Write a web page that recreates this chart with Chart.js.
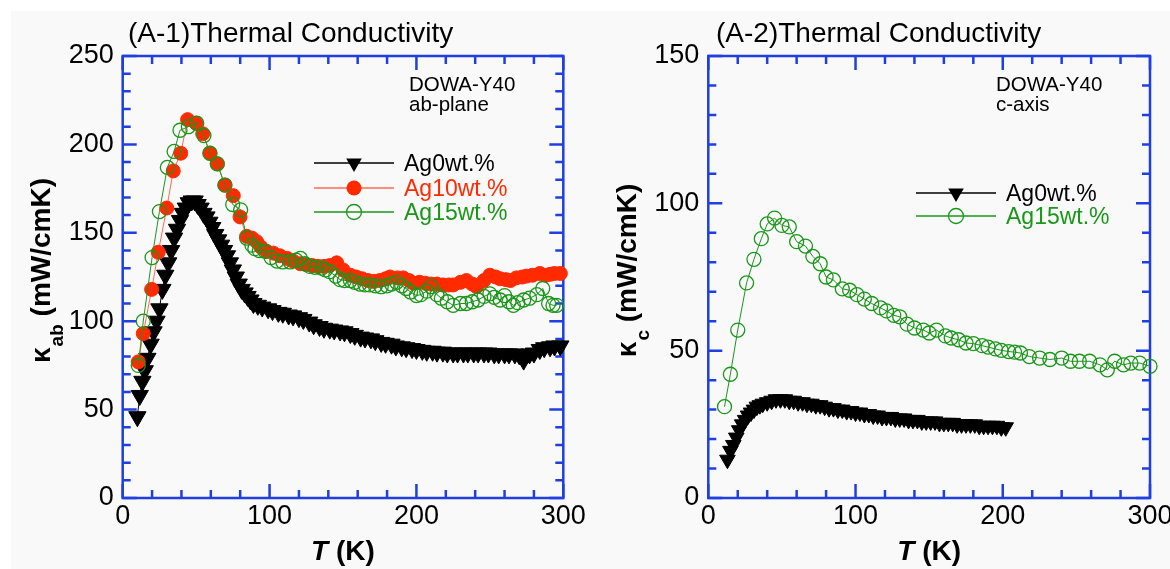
<!DOCTYPE html>
<html>
<head>
<meta charset="utf-8">
<script src="https://cdn.jsdelivr.net/npm/chart.js@4.4.1/dist/chart.umd.min.js"></script>
<style>
html, body { margin: 0; padding: 0; background: #fff; }
#wrap { position: relative; width: 1170px; height: 569px; overflow: hidden; }
#bg { position: absolute; left: 11px; top: 11px; right: 0; bottom: 0; background: #f9f9f9; }
canvas { position: absolute; top: 0; }
</style>
</head>
<body>
<div id="wrap">
	<div id="bg"></div>
	<canvas id="left" width="585" height="569" style="left:0"></canvas>
	<canvas id="right" width="585" height="569" style="left:585px"></canvas>
</div>
<script>
// (A-1) ab-plane, T in K, kappa in mW/cmK
const abAg0T = [10, 11.6, 13.4, 15, 16.8, 19, 21, 23, 25, 27,
	29, 31, 33, 35, 37, 39, 41, 43, 45, 47,
	49, 51, 53, 55, 57, 59, 61, 63, 65, 67,
	69, 71, 73, 75, 77, 79, 81, 83, 85, 87,
	89, 92, 95, 99, 102, 106, 109, 113, 116, 120,
	123, 127, 130, 134, 137, 141, 144, 148, 151, 155,
	158, 162, 165, 169, 172, 176, 179, 183, 186, 190,
	193, 197, 200, 204, 207, 211, 214, 218, 221, 225,
	228, 232, 235, 239, 242, 246, 249, 253, 256, 260,
	263, 267, 270, 273, 277, 280, 284, 287, 291, 294,
	298];
const abAg0K = [46, 58, 66, 72, 79, 87, 94, 100, 107, 118,
	126, 133, 140, 147, 152, 157, 161, 164, 167, 168,
	168, 166, 164, 161, 159, 156, 153, 149, 146, 143,
	140, 137, 133, 129, 125, 121, 118, 116, 114, 112,
	110, 109, 108, 107, 106, 105, 104.5, 103.5, 103, 102,
	101, 99.5, 98, 97, 96, 95.5, 95, 94.5, 94, 93,
	92, 91, 90.5, 90, 89, 88, 87.5, 87, 86, 85.5,
	85, 84.5, 84, 83.5, 83, 83, 82.5, 82.5, 82, 82,
	82, 82, 82, 82, 82, 82, 82, 81.5, 81.5, 81.5,
	81.5, 81.5, 81, 78, 81.5, 82, 84, 85, 85.5, 86,
	86];

const abAg10T = [10.6, 14, 19.7, 24.2, 30, 34.4, 39.5, 44.2, 49.9, 54.5,
	59.4, 64.4, 69.6, 75.3, 79.9, 84.4, 88, 91.2, 94, 98,
	102.5, 107, 112, 116, 121, 125, 129, 133, 137, 141,
	145.7, 150, 155, 159, 163, 167, 171, 175, 179, 182,
	187, 191, 195, 198, 202, 206, 210, 214, 218, 222,
	225, 230, 234, 238, 241, 246, 250, 254, 257, 261,
	264, 268, 272, 275, 279, 284, 288, 291, 294, 298];
const abAg10K = [77, 93, 118, 139, 164, 185, 195, 214, 212, 206,
	195, 189, 177, 171, 159, 148, 147, 145, 142, 139.5,
	138.5, 137, 135.5, 134, 132.5, 132, 131.5, 131, 131, 131.5,
	133, 129, 126, 125, 124, 123, 122.5, 123, 124, 125,
	124.5, 124.5, 123, 121.5, 122, 121.5, 121, 121, 120.5, 120.5,
	120.5, 122, 123, 121, 119.5, 123, 126, 125, 124, 123.5,
	123, 124.5, 125, 125.5, 126, 127, 126, 126.5, 127, 127];

const abAg15T = [10.6, 14, 20, 25, 30.4, 35, 39, 44.7, 50.4, 55.3,
	59.4, 64.4, 69.6, 74.9, 80.3, 84.4, 88, 90, 93, 97,
	101, 105, 109, 114, 118, 121, 124, 127.5, 131, 135.5,
	138, 141, 145, 148, 151, 155, 158, 161.5, 165, 168,
	172, 176, 180, 183, 186.5, 190, 193, 196, 200, 203,
	207, 210, 214, 217, 221, 225, 230, 234, 238, 242,
	246, 250, 253, 257, 260, 263, 266, 269, 273, 277,
	282, 286, 290, 293, 295.5];
const abAg15K = [75, 100, 136, 162, 187, 196, 208, 210, 212, 205,
	195, 189, 177, 166, 163, 147, 143, 141, 140, 139.5,
	136, 134, 133.5, 133.5, 134.5, 135.5, 132.5, 131, 130.5, 130,
	129, 128, 125.5, 123.5, 123, 123, 122, 121, 120.5, 120.5,
	120, 119.5, 120, 121, 122, 120, 118.5, 116.5, 114.5, 115,
	117, 119.5, 115, 113, 111, 109, 110, 110, 111, 112,
	114, 115.5, 113.5, 112, 114.5, 111, 109, 110.5, 112, 113,
	115, 118.5, 110, 109, 109];

// (A-2) c-axis
const cAg0T = [13, 15, 17, 19, 21, 23, 25, 27, 29, 31,
	33, 35, 37, 40, 43, 46, 49, 52, 55, 58,
	61, 64, 67, 70, 73, 76, 79, 82, 85, 88,
	91, 94, 97, 100, 103, 106, 109, 112, 115, 118,
	121, 124, 127, 130, 133, 136, 139, 142, 145, 148,
	151, 154, 157, 160, 163, 166, 169, 172, 175, 178,
	181, 184, 187, 190, 193, 196, 199, 202];
const cAg0K = [13, 16, 18, 20.5, 23, 25, 26.5, 28, 29, 30,
	31, 31.5, 32, 32.5, 33, 33.5, 33.5, 33.5, 33, 33,
	32.5, 32.5, 32, 32, 31.5, 31.5, 31, 30.5, 30.5, 30,
	30, 29.5, 29.5, 29, 29, 28.5, 28.5, 28, 28, 27.5,
	27.5, 27.5, 27, 27, 27, 26.5, 26.5, 26.5, 26, 26,
	26, 26, 25.5, 25.5, 25.5, 25.5, 25, 25, 25, 25,
	25, 24.5, 24.5, 24.5, 24.5, 24.5, 24, 24];

const cAg15T = [11, 15, 20, 26, 31, 36, 40, 45, 50, 55,
	60, 66, 71, 76, 80, 85, 91, 96, 101, 106,
	111, 117, 121, 126, 130, 135, 140, 146, 150, 155,
	161, 165, 170, 175, 180, 186, 190, 195, 199, 204,
	208, 212, 218, 225, 232, 240, 246, 252, 259, 266,
	271, 276, 282, 287, 293, 300];
const cAg15K = [31, 42, 57, 73, 81, 88, 93, 95, 92.5, 92,
	87, 85.5, 82, 79.5, 75, 74, 71, 70.5, 69, 67.5,
	66, 64.5, 63.5, 62, 61.5, 59, 57.7, 57, 56, 57,
	55, 54.3, 53.7, 52.6, 52.4, 51.7, 51.2, 50.6, 50.1, 49.7,
	49.5, 49.2, 48, 47.5, 47, 47.5, 46.4, 46.4, 46.4, 45.2,
	43.5, 46.4, 45.2, 45.8, 45.8, 44.7];

const abLabels = ["Ag0wt.%", "Ag10wt.%", "Ag15wt.%"];
const cLabels = ["Ag0wt.%", "Ag15wt.%"];

const FONT = '"Liberation Sans", Arial, Helvetica, sans-serif';
const BLUE = "#1f3fe0";
const BLACK = "#000";
const RED = "#ff2a00";
const GREEN = "#1a961a";

const pts = (xs, ys) => xs.map((x, i) => ({ x: x, y: ys[i] }));

const drawMarker = (ctx, kind, x, y, r, col) => {
	ctx.beginPath();
	if (kind == "tri") {
		ctx.moveTo(x - r * 0.866, y - r * 0.5);
		ctx.lineTo(x + r * 0.866, y - r * 0.5);
		ctx.lineTo(x, y + r);
		ctx.closePath();
		ctx.fillStyle = col;
		ctx.fill();
	} else {
		ctx.arc(x, y, r, 0, Math.PI * 2);
		if (kind == "dot") {
			ctx.fillStyle = col;
			ctx.fill();
		} else {
			ctx.lineWidth = 1.3;
			ctx.strokeStyle = col;
			ctx.stroke();
		}
	}
};

const decor = {
	id: "decor",
	beforeDatasetsDraw(chart, args, o) {
		const { ctx, chartArea: a, scales: { x, y } } = chart;
		ctx.save();
		ctx.strokeStyle = BLUE;
		ctx.lineWidth = 2.5;
		ctx.strokeRect(a.left, a.top, a.right - a.left, a.bottom - a.top);
		ctx.beginPath();
		for (let v = x.min; v <= x.max; v += o.xMinor) {
			let px = x.getPixelForValue(v);
			let len = v % o.xMajor == 0 ? 14 : 8;
			ctx.moveTo(px, a.bottom); ctx.lineTo(px, a.bottom - len);
			ctx.moveTo(px, a.top); ctx.lineTo(px, a.top + len);
		}
		for (let v = y.min; v <= y.max; v += o.yMinor) {
			let py = y.getPixelForValue(v);
			let len = v % o.yMajor == 0 ? 14 : 8;
			ctx.moveTo(a.left, py); ctx.lineTo(a.left + len, py);
			ctx.moveTo(a.right, py); ctx.lineTo(a.right - len, py);
		}
		ctx.stroke();
		ctx.restore();
	},
	afterDraw(chart, args, o) {
		const { ctx, chartArea: a } = chart;
		ctx.save();
		ctx.fillStyle = BLACK;
		ctx.textBaseline = "alphabetic";
		ctx.textAlign = "left";

		// panel title
		ctx.font = "28px " + FONT;
		ctx.fillText(o.title, o.titleX, 42);

		// sample note
		ctx.font = "20.5px " + FONT;
		ctx.fillText(o.note[0], o.noteX, 91);
		ctx.fillText(o.note[1], o.noteX, 111);

		// legend
		ctx.font = "23px " + FONT;
		o.legend.forEach((e, i) => {
			let ly = o.legendY[i];
			ctx.strokeStyle = e.line;
			ctx.lineWidth = 1.3;
			ctx.beginPath();
			ctx.moveTo(o.legendX, ly);
			ctx.lineTo(o.legendX + 80, ly);
			ctx.stroke();
			drawMarker(ctx, e.kind, o.legendX + 40, ly, e.kind == "tri" ? 9 : 7.5, e.color);
			ctx.fillStyle = e.color;
			ctx.fillText(e.label, o.legendX + 90, ly + 8);
		});

		// x title: T (K)
		ctx.fillStyle = BLACK;
		let cx = (a.left + a.right) / 2;
		ctx.font = "italic bold 28px " + FONT;
		let wT = ctx.measureText("T").width;
		ctx.font = "bold 28px " + FONT;
		let wK = ctx.measureText(" (K)").width;
		let x0 = cx - (wT + wK) / 2;
		ctx.font = "italic bold 28px " + FONT;
		ctx.fillText("T", x0, 560);
		ctx.font = "bold 28px " + FONT;
		ctx.fillText(" (K)", x0 + wT, 560);

		// y title: kappa with subscript
		ctx.translate(a.left - 72.5, (a.top + a.bottom) / 2 - 6);
		ctx.rotate(-Math.PI / 2);
		ctx.font = "bold 28px " + FONT;
		let wk = ctx.measureText("κ").width;
		let wu = ctx.measureText(" (mW/cmK)").width;
		ctx.font = "bold 19px " + FONT;
		let ws = ctx.measureText(o.sub).width;
		let s0 = -(wk + ws + wu) / 2;
		ctx.font = "bold 28px " + FONT;
		ctx.fillText("κ", s0, 0);
		ctx.font = "bold 19px " + FONT;
		ctx.fillText(o.sub, s0 + wk + 1, 13);
		ctx.font = "bold 28px " + FONT;
		ctx.fillText(" (mW/cmK)", s0 + wk + ws + 1, 0);
		ctx.restore();
	}
};

const makeChart = (id, datasets, yMax, plotLeft, padRight, deco) => {
	return new Chart(document.getElementById(id), {
		type: "scatter",
		data: { datasets: datasets },
		plugins: [decor],
		options: {
			responsive: false,
			animation: false,
			events: [],
			layout: { padding: { top: 56, right: padRight, bottom: 0, left: 0 } },
			scales: {
				x: {
					type: "linear",
					min: 0,
					max: 300,
					grid: { display: false, drawTicks: false },
					border: { display: false },
					ticks: { stepSize: 100, padding: 2, color: BLACK, font: { family: FONT, size: 27 } },
					afterFit: s => { s.height = 71; s.paddingLeft = 0; s.paddingRight = 0; }
				},
				y: {
					type: "linear",
					min: 0,
					max: yMax,
					grid: { display: false, drawTicks: false },
					border: { display: false },
					ticks: { stepSize: 50, padding: 9, color: BLACK, font: { family: FONT, size: 27 } },
					afterFit: s => { s.width = plotLeft; s.paddingTop = 0; s.paddingBottom = 0; }
				}
			},
			plugins: {
				legend: { display: false },
				tooltip: { enabled: false },
				decor: deco
			}
		}
	});
};

const triSet = (data, r) => ({
	data: data,
	showLine: true,
	clip: false,
	order: 2,
	borderColor: BLACK,
	borderWidth: 1,
	pointStyle: "triangle",
	rotation: 180,
	pointRadius: r,
	pointBackgroundColor: BLACK,
	pointBorderColor: BLACK,
	pointBorderWidth: 1
});

const redSet = (data) => ({
	data: data,
	showLine: true,
	clip: false,
	order: 1,
	borderColor: "#ff6a50",
	borderWidth: 1,
	pointStyle: "circle",
	pointRadius: 7,
	pointBackgroundColor: RED,
	pointBorderColor: RED,
	pointBorderWidth: 1
});

const greenSet = (data) => ({
	data: data,
	showLine: true,
	clip: false,
	order: 0,
	borderColor: GREEN,
	borderWidth: 1,
	pointStyle: "circle",
	pointRadius: 7,
	pointBackgroundColor: "rgba(0,0,0,0)",
	pointBorderColor: GREEN,
	pointBorderWidth: 1.3
});

window.addEventListener("load", () => {
	makeChart("left", [
		triSet(pts(abAg0T, abAg0K), 10),
		redSet(pts(abAg10T, abAg10K)),
		greenSet(pts(abAg15T, abAg15K))
	], 250, 122.7, 21.7, {
		title: "(A-1)Thermal Conductivity",
		titleX: 128,
		note: ["DOWA-Y40", "ab-plane"],
		noteX: 409,
		sub: "ab",
		legendX: 314,
		legendY: [163, 188, 212],
		legend: [
			{ label: abLabels[0], kind: "tri", color: BLACK, line: BLACK },
			{ label: abLabels[1], kind: "dot", color: RED, line: "#ff6a50" },
			{ label: abLabels[2], kind: "ring", color: GREEN, line: GREEN }
		],
		xMinor: 20, xMajor: 100, yMinor: 10, yMajor: 50
	});

	makeChart("right", [
		triSet(pts(cAg0T, cAg0K), 9),
		greenSet(pts(cAg15T, cAg15K))
	], 150, 123.3, 20, {
		title: "(A-2)Thermal Conductivity",
		titleX: 131,
		note: ["DOWA-Y40", "c-axis"],
		noteX: 411,
		sub: "c",
		legendX: 331,
		legendY: [193, 216],
		legend: [
			{ label: cLabels[0], kind: "tri", color: BLACK, line: BLACK },
			{ label: cLabels[1], kind: "ring", color: GREEN, line: GREEN }
		],
		xMinor: 20, xMajor: 100, yMinor: 10, yMajor: 50
	});
});
</script>
</body>
</html>
